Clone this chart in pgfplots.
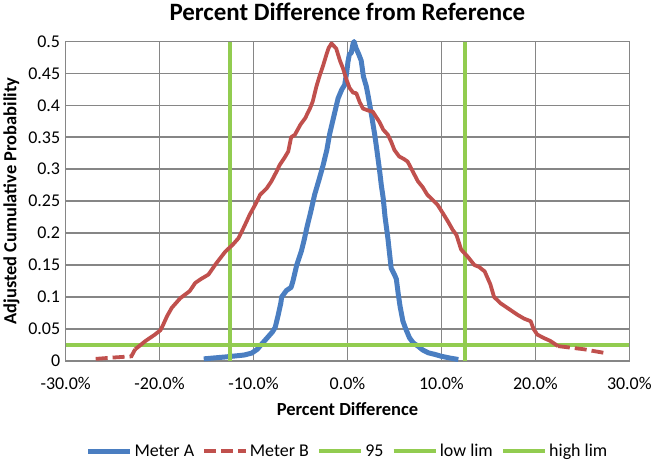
\documentclass[border=0pt]{standalone}
\usepackage{pgfplots}
\pgfplotsset{compat=1.18}
\usepackage{fontspec}
\setmainfont{Carlito}
\definecolor{mblue}{RGB}{74,126,193}
\definecolor{mred}{RGB}{192,80,77}
\definecolor{mgreen}{RGB}{146,204,80}
\definecolor{gridg}{RGB}{134,134,134}
\begin{document}
\begin{tikzpicture}
\begin{axis}[
  scale only axis,
  width=565pt, height=320pt,
  xmin=-30, xmax=30, ymin=0, ymax=0.5,
  xtick={-30,-20,-10,0,10,20,30},
  xticklabels={-30.0\%,-20.0\%,-10.0\%,0.0\%,10.0\%,20.0\%,30.0\%},
  ytick={0,0.05,0.1,0.15,0.2,0.25,0.3,0.35,0.4,0.45,0.5},
  yticklabels={0,0.05,0.1,0.15,0.2,0.25,0.3,0.35,0.4,0.45,0.5},
  major tick length=0pt,
  grid=major,
  grid style={gridg, line width=1.6pt},
  axis line style={gridg, line width=1.6pt},
  tick label style={font=\fontsize{18}{20}\selectfont},
  xticklabel style={yshift=-13pt},
  yticklabel style={xshift=-2pt},
  title={\bfseries Percent Difference from Reference},
  title style={font=\fontsize{25}{28}\selectfont, yshift=11pt},
  xlabel={\bfseries Percent Difference},
  ylabel={\bfseries Adjusted Cumulative Probability},
  label style={font=\fontsize{18.5}{20}\selectfont},
  xlabel style={yshift=-6pt},
  ylabel style={yshift=2pt},
  clip=false,
  legend columns=5,
  legend style={at={(0.5,-0.283)}, anchor=center, draw=none, font=\fontsize{18}{20}\selectfont,
    /tikz/every even column/.append style={column sep=6pt}},
  legend image code/.code={\draw[#1] (0pt,0pt) -- (42pt,0pt);},
]
\addplot[mblue, line width=5pt, line join=round] coordinates {
(-15.3,0.003) (-13,0.006) (-11,0.009) (-10.2,0.012) (-9.6,0.018) (-9.2,0.025) (-8.6,0.035) (-8.0,0.045) (-7.7,0.052) (-7.4,0.07) (-7.1,0.09) (-7.0,0.1) (-6.5,0.11) (-6.0,0.115) (-5.8,0.125) (-5.4,0.15) (-4.9,0.172) (-4.6,0.19) (-4.3,0.21) (-3.9,0.234) (-3.5,0.26) (-3.0,0.285) (-2.6,0.306) (-2.2,0.33) (-1.9,0.355) (-1.5,0.38) (-1.0,0.411) (-0.6,0.425) (-0.3,0.432) (-0.1,0.45) (0.05,0.468) (0.2,0.48) (0.4,0.482) (0.6,0.497) (0.7,0.5) (0.9,0.49) (1.2,0.48) (1.46,0.47) (1.7,0.445) (2.0,0.43) (2.2,0.415) (2.5,0.39) (2.9,0.354) (3.1,0.333) (3.4,0.30) (3.6,0.275) (3.8,0.255) (4.0,0.225) (4.3,0.192) (4.5,0.165) (4.65,0.145) (5.0,0.135) (5.2,0.128) (5.4,0.105) (5.6,0.085) (5.9,0.062) (6.2,0.05) (6.6,0.036) (7.0,0.028) (7.5,0.023) (8.0,0.017) (8.6,0.0125) (9.3,0.01) (10.0,0.007) (11.0,0.004) (11.8,0.002)
};
\addlegendentry{Meter A}
\addplot[mred, line width=3.8pt, dash pattern=on 12pt off 5pt] coordinates {
(-26.8,0.003) (-25,0.005) (-23.0,0.007) (-22.6,0.018)
};
\addlegendentry{Meter B}
\addplot[mgreen, line width=4.5pt] coordinates {(-30,0.025) (30,0.025)};
\addlegendentry{95}
\addplot[mgreen, line width=4.5pt] coordinates {(-12.5,0) (-12.5,0.5)};
\addlegendentry{low lim}
\addplot[mgreen, line width=4.5pt] coordinates {(12.5,0) (12.5,0.5)};
\addlegendentry{high lim}
\addplot[mred, line width=3.8pt, line join=round, forget plot] coordinates {
(-22.6,0.018) (-22.0,0.025) (-21.5,0.031) (-20.5,0.041) (-19.9,0.048) (-19.6,0.057) (-19.2,0.07) (-18.7,0.083) (-17.8,0.098) (-16.8,0.109) (-16.2,0.122) (-15.6,0.128) (-14.8,0.135) (-14.0,0.152) (-13.0,0.171) (-12.2,0.182) (-11.6,0.192) (-11.0,0.21) (-10.4,0.229) (-9.8,0.245) (-9.3,0.26) (-8.6,0.27) (-8.1,0.281) (-7.6,0.295) (-7.2,0.307) (-6.7,0.318) (-6.3,0.328) (-6.0,0.35) (-5.6,0.354) (-5.0,0.37) (-4.5,0.38) (-4.0,0.395) (-3.7,0.406) (-3.3,0.43) (-2.95,0.447) (-2.6,0.462) (-2.25,0.479) (-2.0,0.49) (-1.7,0.497) (-1.2,0.489) (-0.8,0.47) (-0.48,0.458) (-0.1,0.44) (0.23,0.427) (0.6,0.42) (0.94,0.419) (1.3,0.405) (1.65,0.395) (2.2,0.392) (2.7,0.39) (3.0,0.383) (3.4,0.374) (3.8,0.362) (4.3,0.354) (4.65,0.343) (5.0,0.33) (5.5,0.32) (6.0,0.316) (6.4,0.312) (7.0,0.295) (7.5,0.281) (8.0,0.272) (8.5,0.26) (9.0,0.253) (9.6,0.244) (10.2,0.23) (10.7,0.218) (11.2,0.205) (11.6,0.197) (12.1,0.174) (12.8,0.163) (13.5,0.15) (14.0,0.147) (14.6,0.14) (15.2,0.12) (15.6,0.1) (16.3,0.09) (17.0,0.083) (17.6,0.077) (18.1,0.072) (18.8,0.066) (19.5,0.062) (19.8,0.05) (20.2,0.041) (21.0,0.035) (21.6,0.031) (22.4,0.023)
};
\addplot[mred, line width=3.8pt, dash pattern=on 12pt off 5pt, forget plot] coordinates {
(22.4,0.023) (23.5,0.021) (25.2,0.018) (26.3,0.015) (27.3,0.0125)
};
\end{axis}
\end{tikzpicture}
\end{document}
